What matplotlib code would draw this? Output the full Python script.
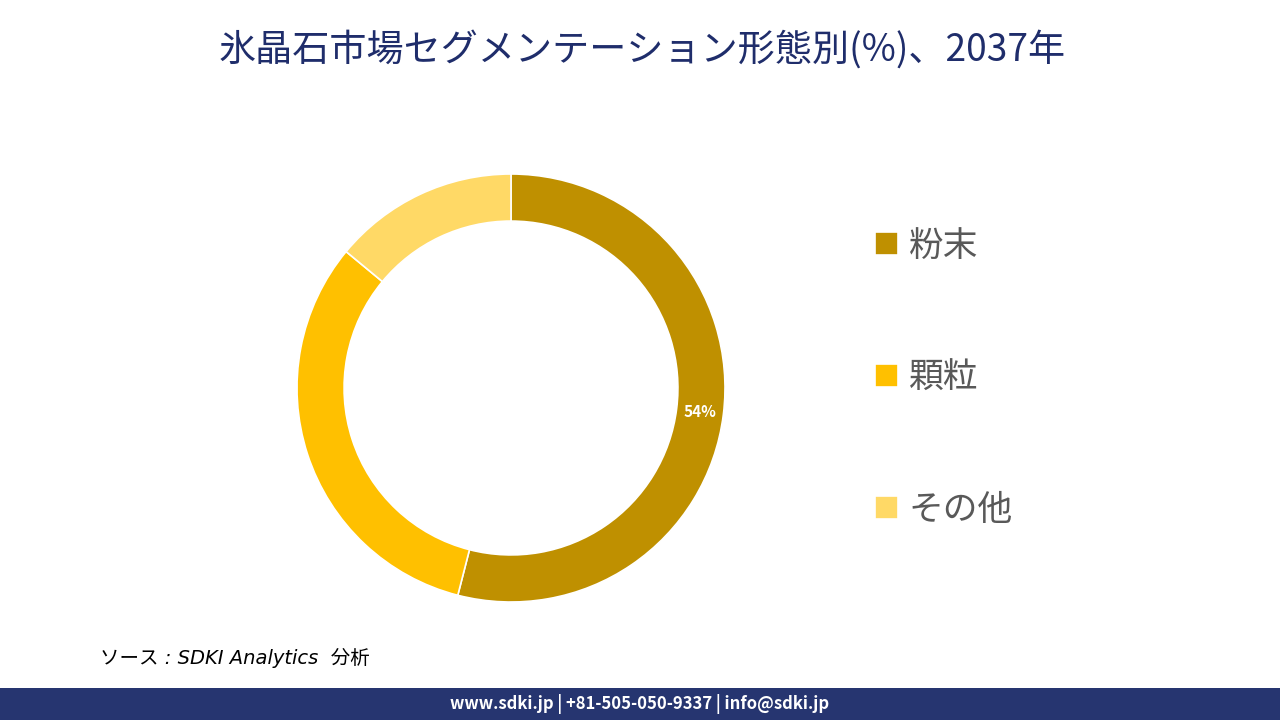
import matplotlib
matplotlib.use('Agg')
import matplotlib.pyplot as plt
import numpy as np

plt.rcParams['font.family'] = ['Noto Sans CJK JP', 'DejaVu Sans']

# Data
labels = ['粉末', '顆粒', 'その他']
shares = [54, 32, 14]
colors = ['#BF9000', '#FFC000', '#FFD966']
shown_labels = ['54%', '', '']

title = '氷晶石市場セグメンテーション形態別(%)、2037年'
source = 'ソース : SDKI Analytics  分析'
footer = 'www.sdki.jp | +81-505-050-9337 | info@sdki.jp'

W, H = 1280, 720
fig = plt.figure(figsize=(W / 100, H / 100), dpi=100)
fig.patch.set_facecolor('white')

# Donut: centre (511, 388) px, outer radius 214 px
cx, cy, r = 511, 388, 214
ax = fig.add_axes([(cx - r) / W, (H - cy - r) / H, 2 * r / W, 2 * r / H])
wedges, _ = ax.pie(shares, colors=colors, startangle=90, counterclock=False,
                   radius=1.0, wedgeprops=dict(width=0.22, edgecolor='white', linewidth=1.2))
ax.set_xlim(-1, 1)
ax.set_ylim(-1, 1)
ax.set_aspect('equal')
ax.axis('off')

# Percentage labels in the middle of the ring
for w, txt in zip(wedges, shown_labels):
    mid = np.deg2rad((w.theta1 + w.theta2) / 2)
    if txt:
        ax.text(0.89 * np.cos(mid), 0.89 * np.sin(mid), txt, ha='center', va='center',
                color='white', fontsize=11, fontweight='bold')

# Title
fig.text(642 / W, 1 - 50 / H, title, ha='center', va='center', fontsize=26.7, color='#1F2D6B')

# Legend
leg = fig.legend(wedges, labels, loc='upper left', bbox_to_anchor=(875 / W, 1 - 229 / H),
                 frameon=False, fontsize=25, labelspacing=2.79, handlelength=0.65,
                 handleheight=0.65, handletextpad=0.32, borderpad=0, borderaxespad=0)
for t in leg.get_texts():
    t.set_color('#595959')

# Source
fig.text(100 / W, 1 - 658 / H, source, ha='left', va='center', fontsize=14,
         style='italic', color='black', family=['DejaVu Sans', 'Noto Sans CJK JP'])

# Footer bar
bar = fig.add_axes([0, 0, 1, 32 / H])
bar.set_facecolor('#263570')
bar.set_xticks([])
bar.set_yticks([])
for s in bar.spines.values():
    s.set_visible(False)
bar.text(0.5, 0.5, footer, ha='center', va='center', color='white', fontsize=12,
         fontweight='bold', transform=bar.transAxes)

fig.savefig('out.png', dpi=100, facecolor='white')
